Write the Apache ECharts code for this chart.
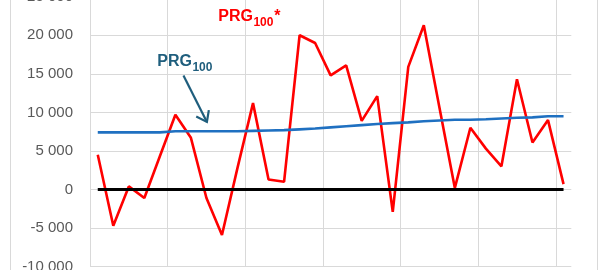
<!DOCTYPE html>
<html><head><meta charset="utf-8">
<script src="https://cdn.jsdelivr.net/npm/echarts@6/dist/echarts.min.js"></script>
<style>html,body{margin:0;padding:0;background:#fff}#c{width:607px;height:270px}</style>
</head><body><div id="c"></div>
<script>
// ---- data ----
const categories = ['1','2','3','4','5','6','7','8','9','10','11','12','13','14','15','16','17','18','19','20','21','22','23','24','25','26','27','28','29','30','31'];
const prg100Star = [4500,-4700,400,-1100,4300,9700,6700,-1100,-5900,2800,11200,1300,1000,20000,19000,14800,16100,8900,12100,-2900,15900,21300,10700,200,8000,5300,3000,14300,6100,9000,700];
const prg100 = [7400,7400,7400,7400,7400,7550,7550,7550,7550,7550,7600,7650,7700,7800,7900,8050,8200,8350,8500,8600,8700,8850,8950,9050,9050,9100,9200,9300,9350,9500,9500];
const zeroLine = [0,0,0,0,0,0,0,0,0,0,0,0,0,0,0,0,0,0,0,0,0,0,0,0,0,0,0,0,0,0,0];
const yTicks = [-10000,-5000,0,5000,10000,15000,20000,25000];
const labelMain = 'PRG';
const labelSub = '100';

// ---- annotation anchors in data coordinates (category index, value) ----
const redLabelAnchor = [7.76, 22450];
const blueLabelAnchor = [3.83, 16580];
const arrowFrom = [5.52, 14790];
const arrowTo = [7.03, 8760];

const RED = '#FF0000', BLUE = '#1F70C1', TEAL = '#1F5E7D';
const FONT = '"Liberation Sans", Arial, sans-serif';

function fmt(v){
  const s = Math.abs(v).toString().replace(/\B(?=(\d{3})+(?!\d))/g, ' ');
  return (v < 0 ? '-' : '') + s;
}

const gridColors = ['#D9D9D9','#D9D9D9','#D9D9D9','#D9D9D9','#D9D9D9','#D9D9D9','#D9D9D9','rgba(0,0,0,0)'];

const option = {
  animation: false,
  backgroundColor: '#ffffff',
  grid: { left: 90, right: 35.7, top: -3.3, bottom: 3.4, containLabel: false, outerBoundsMode: 'none' },
  xAxis: {
    type: 'category', data: categories, boundaryGap: true,
    axisLine: { show: false }, axisTick: { show: false }, axisLabel: { show: false },
    splitLine: { show: true, interval: 4, lineStyle: { color: gridColors, width: 1 } }
  },
  yAxis: {
    type: 'value', min: yTicks[0], max: yTicks[yTicks.length-1], interval: 5000,
    axisLine: { show: false }, axisTick: { show: false },
    axisLabel: { formatter: fmt, color: '#595959', fontSize: 15, fontFamily: FONT, margin: 17, showMinLabel: true, showMaxLabel: true },
    splitLine: { lineStyle: { color: '#D9D9D9', width: 1 } }
  },
  series: [
    { name: 'PRG100*', type: 'line', data: prg100Star, symbol: 'none', lineStyle: { color: RED, width: 2.6 }, itemStyle:{color:RED}, z: 2 },
    { name: 'PRG100', type: 'line', data: prg100, symbol: 'none', lineStyle: { color: BLUE, width: 2.6 }, itemStyle:{color:BLUE}, z: 3 },
    { name: 'zero', type: 'line', data: zeroLine, symbol: 'none', lineStyle: { color: '#000000', width: 3 }, itemStyle:{color:'#000'}, z: 4 }
  ]
};

const chart = echarts.init(document.getElementById('c'), null, { renderer: 'canvas' });
chart.setOption(option);

function toPx(p){
  const a = chart.convertToPixel({gridIndex: 0}, [0, p[1]]);
  const b = chart.convertToPixel({gridIndex: 0}, [1, p[1]]);
  return [a[0] + (b[0] - a[0]) * p[0], a[1]];
}
const mctx = document.createElement('canvas').getContext('2d');
function textW(t, font){ mctx.font = font; return mctx.measureText(t).width; }

const mainFont = 'bold 16px ' + FONT;
const subFont = 'bold 12px ' + FONT;

function labelGroup(anchor, color, star){
  const p = toPx(anchor);
  const els = [];
  let x = p[0];
  els.push({ type: 'text', x: x, y: p[1], silent: true,
    style: { text: labelMain, fill: color, font: mainFont, align: 'left', verticalAlign: 'middle' } });
  x += textW(labelMain, mainFont) + 0.5;
  els.push({ type: 'text', x: x, y: p[1] + 6.3, silent: true,
    style: { text: labelSub, fill: color, font: subFont, align: 'left', verticalAlign: 'middle' } });
  x += textW(labelSub, subFont) + 0.8;
  if (star) {
    els.push({ type: 'text', x: x, y: p[1], silent: true,
      style: { text: '*', fill: color, font: mainFont, align: 'left', verticalAlign: 'middle' } });
  }
  return els;
}

const a0 = toPx(arrowFrom), a1 = toPx(arrowTo);
const ang = Math.atan2(a0[1] - a1[1], a0[0] - a1[0]);
const hl = 12, spread = 36 * Math.PI / 180;
const h1 = [a1[0] + hl * Math.cos(ang - spread), a1[1] + hl * Math.sin(ang - spread)];
const h2 = [a1[0] + hl * Math.cos(ang + spread), a1[1] + hl * Math.sin(ang + spread)];

const graphics = [
  { type: 'rect', silent: true, shape: { x: 10.5, y: -10, width: 587, height: 300 },
    style: { fill: null, stroke: '#D9D9D9', lineWidth: 1 } },
  ...labelGroup(redLabelAnchor, RED, true),
  ...labelGroup(blueLabelAnchor, TEAL, false),
  { type: 'line', silent: true, shape: { x1: a0[0], y1: a0[1], x2: a1[0], y2: a1[1] },
    style: { stroke: TEAL, lineWidth: 2.2 } },
  { type: 'polyline', silent: true, shape: { points: [h1, a1, h2] },
    style: { stroke: TEAL, lineWidth: 2.2, fill: null, lineJoin: 'miter' } }
];
chart.setOption({ graphic: graphics });
</script>
</body></html>
